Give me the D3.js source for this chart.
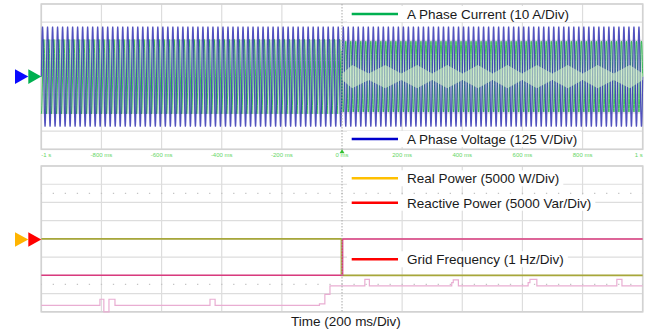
<!DOCTYPE html>
<html>
<head>
<meta charset="utf-8">
<script src="https://cdn.jsdelivr.net/npm/d3@7"></script>
<style>
  body { margin: 0; background: #fff; }
  svg { display: block; font-family: "Liberation Sans", Arial, sans-serif; }
</style>
</head>
<body>
<div id="chart"></div>
<script>
// Time axis (s), 200 ms per division
const timeTicks = [-1, -0.8, -0.6, -0.4, -0.2, 0, 0.2, 0.4, 0.6, 0.8, 1];
const timeLabels = ["-1 s", "-800 ms", "-600 ms", "-400 ms", "-200 ms", "0 ms",
  "200 ms", "400 ms", "600 ms", "800 ms", "1 s"];

// Upper panel: peak envelopes, 60 Hz line
const lineFreq = 60;
const voltageTime = [-1, 1];
const voltagePeak = [345, 345];                 // V
const currentTime = [-1, -0.001, 0.001, 1];
const currentPeak = [20.5, 20.5, 19.5, 19.5];   // A
const currentPhase = [-90, -90, 180, 180];      // deg, relative to voltage
// pale beat "diamonds" in the current after the step
const beatCenters = [0.034, 0.144, 0.25, 0.35, 0.452, 0.55, 0.648, 0.751, 0.85, 0.957];
const beatPeak = 6.4;   // A
const beatMin = 1.8;    // A

// Lower panel
const realTime = [-1, -0.002, -0.002, 1];
const realPower = [0, 0, -10000, -10000];       // W
const reactTime = [-1, 0.002, 0.002, 1];
const reactPower = [-10000, -10000, 0, 0];      // Var
const freqTime = [-1, -0.805, -0.792, -0.775, -0.755, -0.439, -0.422, -0.075, -0.057, -0.04,
  0.076, 0.091, 0.365, 0.37, 0.387, 0.619, 0.625, 0.648, 0.914, 0.931, 1];
const freqHz = [59.35, 59.69, 59.0, 59.69, 59.35, 59.69, 59.35, 59.43, 59.96, 60.42,
  60.78, 60.42, 60.6, 60.75, 60.42, 60.6, 60.78, 60.42, 60.78, 60.42, 60.42];

// Layout
const W = 646, H = 330;
const plotX = [41.3, 642.7];
const topY = [4, 149.3];
const botY = [166, 311.8];

const svg = d3.select("#chart").append("svg")
  .attr("width", W)
  .attr("height", H);

const x = d3.scaleLinear().domain([-1, 1]).range(plotX);
const yV = d3.scaleLinear().domain([-500, 500]).range([topY[1], topY[0]]);
const yI = d3.scaleLinear().domain([-40, 40]).range([topY[1], topY[0]]);
const yP = d3.scaleLinear().domain([-20000, 20000]).range([botY[1], botY[0]]);
const yF = d3.scaleLinear().domain([59, 67]).range([botY[1], botY[0]]);

const gridColor = "#dddddd";

function drawGrid(yr) {
  const g = svg.append("g");
  const rows = d3.range(9).map(i => yr[0] + (yr[1] - yr[0]) * i / 8);
  g.selectAll(".h").data(rows).join("line")
    .attr("x1", plotX[0]).attr("x2", plotX[1])
    .attr("y1", d => d).attr("y2", d => d)
    .attr("stroke", gridColor).attr("stroke-width", 1.2);
  g.selectAll(".v").data(timeTicks.filter(t => t !== 0)).join("line")
    .attr("x1", d => x(d)).attr("x2", d => x(d))
    .attr("y1", yr[0]).attr("y2", yr[1])
    .attr("stroke", gridColor).attr("stroke-width", 1.2);
  g.append("rect")
    .attr("x", plotX[0]).attr("y", yr[0])
    .attr("width", plotX[1] - plotX[0]).attr("height", yr[1] - yr[0])
    .attr("fill", "none").attr("stroke", "#d2d2d2").attr("stroke-width", 1.6);
  return g;
}

function drawZeroLine(yr) {
  svg.append("line")
    .attr("x1", x(0)).attr("x2", x(0))
    .attr("y1", yr[0]).attr("y2", yr[1])
    .attr("stroke", "#a8a8a8").attr("stroke-width", 1)
    .attr("stroke-dasharray", "1.5,1.5");
}

drawGrid(topY);
drawGrid(botY);

// dotted helper rows in lower panel
const dotRows = [botY[0] + 1.5 * (botY[1] - botY[0]) / 8, botY[0] + 6.5 * (botY[1] - botY[0]) / 8];
svg.selectAll(".dotrow").data(dotRows).join("line")
  .attr("x1", plotX[0]).attr("x2", plotX[1])
  .attr("y1", d => d).attr("y2", d => d)
  .attr("stroke", "#c4c4c4").attr("stroke-width", 1.3)
  .attr("stroke-dasharray", "1.3,10.73")
  .attr("stroke-dashoffset", -11.4);

// ---- upper panel traces ----
const vEnv = d3.scaleLinear().domain(voltageTime).range(voltagePeak).clamp(true);
const iEnv = d3.scaleLinear().domain(currentTime).range(currentPeak).clamp(true);
const iPh = d3.scaleLinear().domain(currentTime).range(currentPhase).clamp(true);

const steps = d3.range(-1, 1.00001, 1 / (lineFreq * 28));
const w = 2 * Math.PI * lineFreq;

// pale band under the current trace
svg.append("path")
  .datum(steps)
  .attr("fill", "#c3dccb")
  .attr("opacity", 0.75)
  .attr("d", d3.area()
    .x(t => x(t))
    .y0(t => yI(-iEnv(t)))
    .y1(t => yI(iEnv(t))));

svg.append("path")
  .datum(steps)
  .attr("fill", "none")
  .attr("stroke", "#2cb84c")
  .attr("stroke-width", 0.9)
  .attr("d", d3.line()
    .x(t => x(t))
    .y(t => yI(iEnv(t) * Math.sin(w * t + iPh(t) * Math.PI / 180))));

svg.append("path")
  .datum(steps)
  .attr("fill", "none")
  .attr("stroke", "#3434b4")
  .attr("stroke-width", 1.2)
  .attr("opacity", 0.85)
  .attr("d", d3.line()
    .x(t => x(t))
    .y(t => yV(vEnv(t) * Math.sin(w * t))));

// beat diamonds
const beatPts = [{ t: 0.001, h: beatMin }];
beatCenters.forEach((c, i) => {
  beatPts.push({ t: c, h: beatPeak });
  const next = i < beatCenters.length - 1 ? (c + beatCenters[i + 1]) / 2 : 1;
  beatPts.push({ t: next, h: beatMin });
});
svg.append("path")
  .datum(beatPts)
  .attr("fill", "#d2f2c6")
  .attr("opacity", 0.6)
  .attr("d", d3.area()
    .x(d => x(d.t))
    .y0(d => yI(-d.h))
    .y1(d => yI(d.h)));

drawZeroLine(topY);

// trigger marker
svg.append("path")
  .attr("d", `M${x(0) - 2.5},${topY[1] + 4} L${x(0)},${topY[1]} L${x(0) + 2.5},${topY[1] + 4} Z`)
  .attr("fill", "#2fbf2f");

// time labels between panels
svg.selectAll(".tl").data(timeTicks).join("text")
  .attr("x", d => x(d))
  .attr("y", 157.3)
  .attr("text-anchor", (d, i) => i === 0 ? "start" : (i === timeTicks.length - 1 ? "end" : "middle"))
  .attr("font-size", 6)
  .attr("fill", "#66d666")
  .text((d, i) => timeLabels[i]);

// ---- lower panel traces ----
const stepLine = (yScale) => d3.line()
  .x(d => x(d[0]))
  .y(d => yScale(d[1]));

svg.append("path")
  .datum(d3.zip(freqTime, freqHz))
  .attr("fill", "none")
  .attr("stroke", "#e9add2")
  .attr("stroke-width", 1.2)
  .attr("d", stepLine(yF).curve(d3.curveStepAfter));

svg.append("path")
  .datum(d3.zip(realTime, realPower))
  .attr("fill", "none")
  .attr("stroke", "#a7a73a")
  .attr("stroke-width", 1.6)
  .attr("d", stepLine(yP));

svg.append("path")
  .datum(d3.zip(reactTime, reactPower))
  .attr("fill", "none")
  .attr("stroke", "#d93a7e")
  .attr("stroke-width", 1.5)
  .attr("d", stepLine(yP));

drawZeroLine(botY);

// ---- legends ----
const legend = [
  { label: "A Phase Current (10 A/Div)", color: "#00b050", y: 14 },
  { label: "A Phase Voltage (125 V/Div)", color: "#0000cc", y: 139 },
  { label: "Real Power (5000 W/Div)", color: "#ffc000", y: 178.3 },
  { label: "Reactive Power (5000 Var/Div)", color: "#ff0000", y: 202.7 },
  { label: "Grid Frequency (1 Hz/Div)", color: "#ff0000", y: 259.3 }
];

const lg = svg.selectAll(".lg").data(legend).join("g")
  .attr("transform", d => `translate(0,${d.y})`);

const texts = lg.append("text")
  .attr("x", 407)
  .attr("y", 4.9)
  .attr("font-size", 13.5)
  .attr("fill", "#1a1a1a")
  .text(d => d.label);

texts.each(function (d) {
  d.w = this.getComputedTextLength();
});

lg.insert("rect", "text")
  .attr("x", 347)
  .attr("y", -8)
  .attr("width", d => d.w + 64)
  .attr("height", 16)
  .attr("fill", "#fff");

lg.append("line")
  .attr("x1", 351.7).attr("x2", 398)
  .attr("y1", 0).attr("y2", 0)
  .attr("stroke", d => d.color)
  .attr("stroke-width", 2.6);

// channel markers
const markers = [
  { x0: 15, x1: 28.3, cy: 76.6, color: "#0a0aff" },
  { x0: 28.3, x1: 41.3, cy: 76.6, color: "#00b050" },
  { x0: 15, x1: 28.3, cy: 239.5, color: "#ffb400" },
  { x0: 28.3, x1: 41.3, cy: 239.5, color: "#ff0000" }
];
svg.selectAll(".mk").data(markers).join("path")
  .attr("d", d => `M${d.x0},${d.cy - 7.3} L${d.x1},${d.cy} L${d.x0},${d.cy + 7.3} Z`)
  .attr("fill", d => d.color);

svg.append("text")
  .attr("x", 346)
  .attr("y", 326.3)
  .attr("text-anchor", "middle")
  .attr("font-size", 13.5)
  .attr("fill", "#1a1a1a")
  .text("Time (200 ms/Div)");
</script>
</body>
</html>
